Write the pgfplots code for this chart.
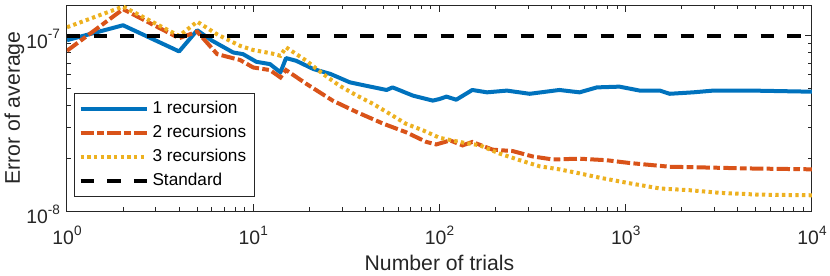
\documentclass[border=0pt]{standalone}
\usepackage{fontspec}
\setmainfont{Liberation Sans}
\usepackage{pgfplots}
\pgfplotsset{compat=1.18}
\definecolor{mblue}{rgb}{0,0.447,0.741}
\definecolor{mred}{rgb}{0.85,0.325,0.098}
\definecolor{myellow}{rgb}{0.929,0.694,0.125}
\definecolor{axgray}{rgb}{0.15,0.15,0.15}
\newcommand{\ex}[1]{10\raisebox{0.48em}{\fontsize{6.8}{7}\selectfont #1}}
\begin{document}
\begin{tikzpicture}
\path[use as bounding box] (-33.5pt,-32pt) rectangle (381.5pt,105.5pt);
\begin{axis}[
  at={(0,0)}, anchor=south west,
  scale only axis, width=372.5pt, height=103pt,
  xmode=log, ymode=log, log basis x=10, log basis y=10,
  xmin=1, xmax=10000, ymin=1e-8, ymax=1.5e-7,
  xtick={1,10,100,1000,10000},
  xticklabels={\ex{0},\ex{1},\ex{2},\ex{3},\ex{4}},
  ytick={1e-8,1e-7},
  yticklabels={\ex{-8},\ex{-7}},
  minor xtick={2,3,4,5,6,7,8,9,20,30,40,50,60,70,80,90,200,300,400,500,600,700,800,900,2000,3000,4000,5000,6000,7000,8000,9000},
  minor ytick={2e-8,3e-8,4e-8,5e-8,6e-8,7e-8,8e-8,9e-8},
  tick align=inside,
  major tick length=3.5pt, minor tick length=2.2pt,
  axis line style={draw=axgray, line width=0.5pt},
  tick style={draw=axgray, line width=0.5pt},
  tick label style={font=\fontsize{9.7}{11}\selectfont, text=axgray},
  xticklabel style={yshift=-4pt},
  yticklabel style={yshift=-1.5pt},
  label style={font=\fontsize{10.6}{12}\selectfont, text=axgray},
  xlabel={Number of trials}, ylabel={Error of average},
  xlabel style={at={(axis description cs:0.5,-0.291)}, anchor=base},
  ylabel style={at={(axis description cs:-0.0631,0.5)}, anchor=base},
  legend cell align=left,
  legend image code/.code={\draw[#1] (0pt,0pt) -- (33pt,0pt);},
  legend style={at={(axis description cs:0.0094,0.068)}, anchor=south west,
    draw=axgray, line width=0.5pt, fill=white, inner xsep=2pt, inner ysep=1.65pt,
    row sep=0pt, font=\fontsize{8.6}{10}\selectfont, text=black,
    nodes={inner sep=2pt, text height=6pt, text depth=2pt}},
]
\addplot[mblue, line width=2pt, line join=round] coordinates {
(1,9.45e-8) (2,1.15e-7) (4,8.15e-8) (5,1.077e-7) (6,9.4e-8) (7.8,8.04e-8) (8.8,7.87e-8)
(10.4,7.11e-8) (12.3,6.9e-8) (14,6.19e-8) (15,7.47e-8) (17,7.21e-8) (21,6.47e-8)
(26,6.06e-8) (33,5.43e-8) (40,5.2e-8) (52,4.91e-8) (56,5.08e-8) (72,4.56e-8)
(92,4.27e-8) (100,4.36e-8) (109,4.5e-8) (123,4.32e-8) (150,4.91e-8) (180,4.76e-8)
(230,4.87e-8) (305,4.67e-8) (440,4.91e-8) (565,4.76e-8) (700,5.08e-8) (925,5.13e-8)
(1190,4.87e-8) (1525,4.87e-8) (1720,4.67e-8) (2300,4.76e-8) (2950,4.87e-8)
(4800,4.87e-8) (10000,4.8e-8)
};
\addlegendentry{1 recursion}
\addplot[mred, line width=2pt, dash pattern=on 6.67pt off 1.67pt on 3.33pt off 1.67pt] coordinates {
(1,8.22e-8) (2,1.42e-7) (4,9.7e-8) (5,1.057e-7) (6.4,7.87e-8) (8.5,7.28e-8) (10,6.6e-8)
(12.3,6.38e-8) (14,5.79e-8) (15,6.38e-8) (19.3,5.32e-8) (26.7,4.27e-8) (36,3.67e-8)
(50,3.15e-8) (66,2.82e-8) (85,2.48e-8) (96,2.4e-8) (114,2.53e-8) (133,2.37e-8)
(150,2.48e-8) (193,2.24e-8) (247,2.2e-8) (316,2.05e-8) (405,1.97e-8) (565,1.99e-8)
(790,1.95e-8) (1050,1.88e-8) (1720,1.79e-8) (2840,1.77e-8) (4600,1.75e-8) (10000,1.73e-8)
};
\addlegendentry{2 recursions}
\addplot[myellow, line width=2pt, dash pattern=on 1.67pt off 1.67pt] coordinates {
(1,1.12e-7) (2,1.47e-7) (4,1.0e-7) (5,1.205e-7) (6.4,1.02e-7) (8.5,8.77e-8) (10,8.3e-8)
(12.5,7.95e-8) (14,7.7e-8) (15,8.6e-8) (19.3,7.21e-8) (23.7,6.06e-8) (29,5.2e-8)
(36,4.56e-8) (44,4.09e-8) (54,3.59e-8) (66,3.15e-8) (82,2.88e-8) (100,2.62e-8)
(128,2.48e-8) (165,2.37e-8) (210,2.13e-8) (270,1.95e-8) (345,1.8e-8) (440,1.73e-8)
(565,1.64e-8) (725,1.55e-8) (1050,1.44e-8) (1525,1.345e-8) (2200,1.315e-8)
(3200,1.27e-8) (5200,1.24e-8) (10000,1.23e-8)
};
\addlegendentry{3 recursions}
\addplot[black, line width=2pt, dash pattern=on 6.67pt off 6.67pt] coordinates {
(1,1e-7) (10000,1e-7)
};
\addlegendentry{Standard}
\end{axis}
\end{tikzpicture}
\end{document}
